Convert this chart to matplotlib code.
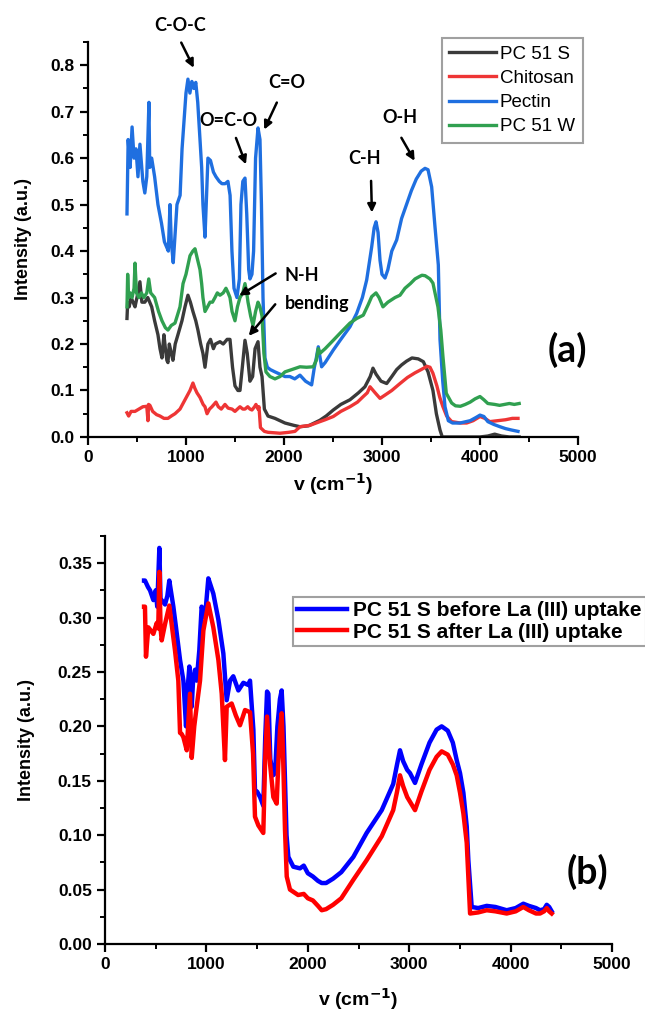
import matplotlib
matplotlib.use("Agg")
import matplotlib.pyplot as plt
from matplotlib.ticker import MultipleLocator

plt.rcParams['font.family'] = ['Liberation Sans', 'DejaVu Sans']

# ---- panel (a) data ----
pectin_x = [398, 410, 430, 450, 470, 490, 510, 530, 560, 580,
            600, 622, 630, 650, 680, 714, 750, 780, 800, 820,
            837, 850, 870, 890, 908, 940, 960, 980, 1000, 1020,
            1040, 1060, 1080, 1100, 1120, 1143, 1160, 1173, 1194, 1210,
            1224, 1250, 1280, 1306, 1340, 1367, 1400, 1428, 1450, 1469,
            1490, 1520, 1545, 1561, 1580, 1602, 1620, 1640, 1653, 1673,
            1690, 1710, 1735, 1755, 1770, 1786, 1806, 1830, 1860, 1908,
            1960, 2010, 2060, 2110, 2163, 2220, 2282, 2310, 2330, 2350,
            2384, 2420, 2503, 2580, 2673, 2742, 2800, 2844, 2895, 2920,
            2939, 2960, 2980, 3000, 3031, 3060, 3100, 3150, 3200, 3250,
            3300, 3350, 3400, 3439, 3470, 3507, 3541, 3575, 3592, 3620,
            3643, 3677, 3720, 3796, 3900, 3960, 4000, 4040, 4080, 4140,
            4204, 4260, 4320, 4388]
pectin_y = [0.48, 0.64, 0.58, 0.667, 0.60, 0.62, 0.56, 0.63, 0.55, 0.525,
            0.56, 0.72, 0.58, 0.60, 0.56, 0.50, 0.46, 0.42, 0.41, 0.40,
            0.50, 0.42, 0.375, 0.44, 0.50, 0.52, 0.62, 0.68, 0.74, 0.77,
            0.74, 0.765, 0.75, 0.763, 0.72, 0.64, 0.58, 0.50, 0.43, 0.52,
            0.60, 0.595, 0.57, 0.56, 0.55, 0.545, 0.545, 0.55, 0.52, 0.40,
            0.32, 0.30, 0.34, 0.50, 0.55, 0.557, 0.48, 0.36, 0.34, 0.35,
            0.40, 0.60, 0.665, 0.64, 0.50, 0.30, 0.17, 0.15, 0.145, 0.14,
            0.135, 0.13, 0.13, 0.125, 0.133, 0.12, 0.112, 0.15, 0.17, 0.194,
            0.151, 0.16, 0.187, 0.21, 0.237, 0.266, 0.30, 0.338, 0.409, 0.45,
            0.463, 0.44, 0.38, 0.35, 0.342, 0.36, 0.40, 0.424, 0.47, 0.50,
            0.53, 0.555, 0.572, 0.578, 0.575, 0.538, 0.452, 0.37, 0.21, 0.12,
            0.065, 0.035, 0.03, 0.03, 0.035, 0.042, 0.047, 0.044, 0.033, 0.027,
            0.022, 0.018, 0.015, 0.012]

pc51w_x = [398, 405, 415, 430, 450, 470, 480, 495, 520, 545,
           570, 600, 620, 640, 680, 720, 755, 790, 816, 850,
           888, 910, 939, 970, 1000, 1041, 1070, 1092, 1120, 1143,
           1160, 1173, 1194, 1220, 1245, 1270, 1296, 1320, 1347, 1380,
           1408, 1430, 1449, 1470, 1500, 1525, 1551, 1580, 1602, 1620,
           1633, 1660, 1684, 1710, 1735, 1755, 1776, 1795, 1816, 1857,
           1908, 1960, 2010, 2080, 2163, 2230, 2299, 2330, 2350, 2367,
           2420, 2503, 2580, 2673, 2742, 2809, 2860, 2895, 2939, 2970,
           3010, 3060, 3133, 3184, 3235, 3290, 3337, 3380, 3408, 3440,
           3490, 3520, 3571, 3600, 3622, 3656, 3711, 3750, 3800, 3850,
           3900, 3950, 4000, 4040, 4080, 4150, 4200, 4250, 4300, 4350,
           4400]
pc51w_y = [0.28, 0.35, 0.30, 0.31, 0.30, 0.32, 0.374, 0.31, 0.30, 0.31,
           0.30, 0.31, 0.34, 0.31, 0.30, 0.27, 0.25, 0.235, 0.23, 0.24,
           0.245, 0.26, 0.28, 0.33, 0.35, 0.39, 0.40, 0.405, 0.38, 0.36,
           0.33, 0.30, 0.27, 0.28, 0.29, 0.29, 0.30, 0.31, 0.305, 0.31,
           0.32, 0.31, 0.30, 0.27, 0.25, 0.28, 0.30, 0.31, 0.33, 0.31,
           0.29, 0.26, 0.24, 0.27, 0.29, 0.28, 0.26, 0.18, 0.14, 0.13,
           0.125, 0.13, 0.14, 0.145, 0.151, 0.15, 0.151, 0.165, 0.19, 0.18,
           0.19, 0.208, 0.225, 0.245, 0.255, 0.262, 0.285, 0.302, 0.31, 0.30,
           0.28, 0.29, 0.30, 0.305, 0.32, 0.33, 0.34, 0.345, 0.348, 0.347,
           0.34, 0.331, 0.28, 0.23, 0.173, 0.094, 0.073, 0.067, 0.066, 0.07,
           0.075, 0.082, 0.087, 0.08, 0.072, 0.07, 0.068, 0.07, 0.072, 0.07,
           0.072]

pc51s_x = [398, 405, 420, 440, 460, 480, 500, 530, 550, 580,
           610, 630, 650, 680, 714, 735, 755, 775, 790, 805,
           816, 830, 850, 867, 890, 918, 959, 990, 1020, 1045,
           1071, 1100, 1122, 1150, 1173, 1194, 1224, 1250, 1280, 1300,
           1347, 1380, 1420, 1449, 1475, 1500, 1530, 1551, 1575, 1602,
           1625, 1653, 1680, 1705, 1735, 1755, 1776, 1800, 1837, 1908,
           2010, 2100, 2163, 2250, 2367, 2430, 2503, 2580, 2673, 2760,
           2826, 2880, 2908, 2940, 2990, 3048, 3100, 3150, 3200, 3250,
           3306, 3370, 3422, 3470, 3520, 3555, 3592, 3615, 3700, 3800,
           3900, 4000, 4080, 4150, 4220, 4300, 4400]
pc51s_y = [0.255, 0.29, 0.28, 0.30, 0.29, 0.28, 0.30, 0.334, 0.29, 0.29,
           0.30, 0.29, 0.28, 0.25, 0.22, 0.19, 0.17, 0.22, 0.19, 0.165,
           0.16, 0.20, 0.18, 0.165, 0.20, 0.22, 0.25, 0.28, 0.305, 0.29,
           0.27, 0.25, 0.23, 0.20, 0.18, 0.15, 0.20, 0.21, 0.19, 0.20,
           0.205, 0.20, 0.21, 0.21, 0.15, 0.11, 0.10, 0.10, 0.15, 0.208,
           0.18, 0.12, 0.13, 0.19, 0.205, 0.15, 0.13, 0.06, 0.045, 0.04,
           0.03, 0.025, 0.022, 0.024, 0.036, 0.045, 0.058, 0.07, 0.08, 0.095,
           0.108, 0.13, 0.148, 0.135, 0.12, 0.115, 0.13, 0.145, 0.155, 0.163,
           0.17, 0.168, 0.162, 0.14, 0.10, 0.05, 0.015, 0.0, 0.0, 0.0,
           0.0, 0.0, 0.002, 0.006, 0.002, 0.0, 0.0]

chitosan_x = [398, 415, 440, 480, 520, 560, 600, 612, 618, 632,
              660, 700, 735, 775, 816, 850, 888, 939, 990, 1041,
              1071, 1090, 1112, 1143, 1175, 1194, 1215, 1240, 1265, 1306,
              1330, 1360, 1398, 1430, 1470, 1500, 1525, 1551, 1580, 1602,
              1630, 1653, 1673, 1700, 1714, 1735, 1745, 1760, 1800, 1837,
              1900, 1959, 2050, 2112, 2163, 2265, 2367, 2420, 2503, 2580,
              2673, 2750, 2809, 2850, 2878, 2930, 2980, 3030, 3100, 3184,
              3260, 3337, 3400, 3459, 3490, 3520, 3560, 3590, 3622, 3660,
              3711, 3800, 3864, 3930, 4000, 4050, 4100, 4180, 4260, 4330,
              4388]
chitosan_y = [0.052, 0.045, 0.055, 0.055, 0.06, 0.065, 0.066, 0.035, 0.07, 0.068,
              0.055, 0.048, 0.045, 0.04, 0.04, 0.045, 0.05, 0.06, 0.08, 0.10,
              0.116, 0.105, 0.095, 0.085, 0.07, 0.065, 0.05, 0.06, 0.065, 0.075,
              0.065, 0.06, 0.07, 0.062, 0.06, 0.055, 0.06, 0.065, 0.06, 0.06,
              0.065, 0.06, 0.058, 0.065, 0.07, 0.06, 0.065, 0.02, 0.012, 0.01,
              0.009, 0.008, 0.01, 0.012, 0.022, 0.025, 0.033, 0.037, 0.044, 0.055,
              0.065, 0.075, 0.087, 0.095, 0.108, 0.095, 0.083, 0.09, 0.10, 0.115,
              0.128, 0.138, 0.145, 0.152, 0.15, 0.137, 0.11, 0.085, 0.065, 0.045,
              0.033, 0.03, 0.03, 0.035, 0.044, 0.04, 0.033, 0.035, 0.037, 0.04,
              0.04]

# ---- panel (b) data ----
before_x = [385, 394, 424, 444, 477, 500, 515, 536, 548, 559,
            592, 615, 634, 674, 700, 740, 773, 799, 815, 832,
            855, 870, 888, 904, 930, 953, 986, 1019, 1040, 1068,
            1118, 1167, 1200, 1233, 1265, 1315, 1364, 1414, 1430, 1463,
            1479, 1500, 1529, 1561, 1580, 1598, 1611, 1630, 1657, 1677,
            1700, 1725, 1742, 1760, 1775, 1790, 1808, 1857, 1923, 1960,
            2000, 2050, 2100, 2137, 2180, 2249, 2330, 2449, 2580, 2729,
            2842, 2880, 2909, 2940, 2980, 3008, 3057, 3120, 3200, 3270,
            3320, 3380, 3430, 3468, 3501, 3534, 3567, 3583, 3616, 3680,
            3764, 3850, 3961, 4050, 4125, 4180, 4250, 4290, 4330, 4356,
            4380, 4405]
before_y = [0.334, 0.334, 0.328, 0.325, 0.316, 0.325, 0.31, 0.364, 0.315, 0.316,
            0.312, 0.32, 0.334, 0.31, 0.291, 0.261, 0.242, 0.20, 0.235, 0.255,
            0.218, 0.245, 0.252, 0.242, 0.27, 0.31, 0.30, 0.336, 0.33, 0.322,
            0.298, 0.267, 0.224, 0.242, 0.246, 0.233, 0.24, 0.238, 0.242, 0.197,
            0.141, 0.14, 0.135, 0.127, 0.19, 0.232, 0.23, 0.17, 0.155, 0.157,
            0.20, 0.225, 0.233, 0.20, 0.15, 0.10, 0.08, 0.071, 0.0695, 0.072,
            0.065, 0.062, 0.058, 0.056, 0.056, 0.06, 0.066, 0.08, 0.102, 0.123,
            0.147, 0.165, 0.178, 0.168, 0.16, 0.157, 0.148, 0.165, 0.185, 0.197,
            0.20, 0.196, 0.185, 0.169, 0.157, 0.139, 0.108, 0.077, 0.034, 0.033,
            0.035, 0.034, 0.031, 0.033, 0.037, 0.035, 0.033, 0.031, 0.032, 0.036,
            0.034, 0.03]

after_x = [385, 394, 404, 427, 477, 510, 525, 536, 548, 559,
           592, 634, 657, 690, 723, 740, 756, 773, 806, 838,
           855, 880, 904, 937, 970, 1019, 1068, 1118, 1151, 1183,
           1200, 1249, 1290, 1331, 1381, 1430, 1460, 1479, 1512, 1561,
           1578, 1598, 1627, 1660, 1693, 1709, 1726, 1742, 1758, 1775,
           1792, 1824, 1904, 1960, 2000, 2050, 2100, 2137, 2180, 2249,
           2330, 2449, 2580, 2729, 2842, 2880, 2909, 2940, 2980, 3057,
           3120, 3200, 3270, 3320, 3380, 3430, 3468, 3501, 3534, 3567,
           3600, 3680, 3764, 3850, 3961, 4050, 4125, 4180, 4250, 4290,
           4330, 4356, 4380, 4405]
after_y = [0.31, 0.31, 0.264, 0.291, 0.285, 0.295, 0.29, 0.342, 0.29, 0.279,
           0.294, 0.311, 0.294, 0.27, 0.242, 0.194, 0.193, 0.19, 0.178, 0.23,
           0.171, 0.20, 0.218, 0.242, 0.288, 0.313, 0.291, 0.261, 0.23, 0.169,
           0.218, 0.221, 0.21, 0.201, 0.215, 0.213, 0.175, 0.117, 0.109, 0.102,
           0.166, 0.209, 0.166, 0.135, 0.129, 0.166, 0.197, 0.212, 0.166, 0.105,
           0.062, 0.05, 0.045, 0.046, 0.042, 0.04, 0.035, 0.031, 0.032, 0.036,
           0.042, 0.059, 0.077, 0.099, 0.123, 0.14, 0.155, 0.145, 0.135, 0.123,
           0.14, 0.16, 0.172, 0.177, 0.174, 0.165, 0.155, 0.139, 0.12, 0.093,
           0.028, 0.029, 0.031, 0.03, 0.028, 0.03, 0.034, 0.031, 0.028, 0.028,
           0.03, 0.033, 0.03, 0.028]

fig = plt.figure(figsize=(6.45, 10.11), dpi=100)
ax1 = fig.add_axes([0.1364, 0.5678, 0.7597, 0.3907])
ax2 = fig.add_axes([0.1628, 0.0663, 0.7861, 0.4036])

ax1.plot(pc51s_x, pc51s_y, color='#3a3a3a', lw=2.4, label='PC 51 S')
ax1.plot(chitosan_x, chitosan_y, color='#ee3535', lw=2.4, label='Chitosan')
ax1.plot(pectin_x, pectin_y, color='#1f6fe0', lw=2.4, label='Pectin')
ax1.plot(pc51w_x, pc51w_y, color='#30a050', lw=2.4, label='PC 51 W')

ax2.plot(before_x, before_y, color='#0000ff', lw=3.2, label='PC 51 S before La (III) uptake')
ax2.plot(after_x, after_y, color='#ff0000', lw=3.2, label='PC 51 S after La (III) uptake')

for ax in (ax1, ax2):
    ax.set_xlim(0, 5000)
    ax.spines['right'].set_visible(False)
    ax.spines['top'].set_visible(False)
    for s in ('left', 'bottom'):
        ax.spines[s].set_linewidth(1.6)
    ax.xaxis.set_major_locator(MultipleLocator(1000))
    ax.xaxis.set_minor_locator(MultipleLocator(500))
    ax.tick_params(which='major', direction='out', length=6, width=1.6, labelsize=12.5)
    ax.tick_params(which='minor', direction='out', length=3.5, width=1.4)
    ax.set_ylabel('Intensity (a.u.)', fontsize=13, fontweight='bold')
    ax.set_xlabel('v (cm$^{\\mathbf{-1}}$)', fontsize=14, fontweight='bold')

ax1.set_ylim(0, 0.85)
ax1.yaxis.set_major_locator(MultipleLocator(0.1))
ax1.yaxis.set_minor_locator(MultipleLocator(0.05))
ax1.yaxis.set_major_formatter(plt.FormatStrFormatter('%.1f'))
ax2.set_ylim(0, 0.375)
ax2.yaxis.set_major_locator(MultipleLocator(0.05))
ax2.yaxis.set_minor_locator(MultipleLocator(0.025))
ax2.yaxis.set_major_formatter(plt.FormatStrFormatter('%.2f'))
for ax in (ax1, ax2):
    for lab in ax.get_xticklabels() + ax.get_yticklabels():
        lab.set_fontweight('bold')
ax1.yaxis.set_label_coords(-0.115, 0.5)
ax2.yaxis.set_label_coords(-0.138, 0.5)
ax2.xaxis.labelpad = 10

leg1 = ax1.legend(loc='upper left', bbox_to_anchor=(0.722, 1.01), fontsize=13.5,
                  frameon=True, fancybox=False, handlelength=2.5, handletextpad=0.2,
                  borderpad=0.4, labelspacing=0.38, borderaxespad=0)
leg1.get_frame().set_edgecolor('#888888')
leg1.get_frame().set_linewidth(1.5)

leg2 = ax2.legend(loc='upper left', bbox_to_anchor=(0.454, 0.4095),
                  bbox_transform=fig.transFigure,
                  prop={'weight': 'bold', 'size': 15},
                  frameon=True, fancybox=False, handlelength=2.4, handletextpad=0.3,
                  borderpad=0.2, labelspacing=0.12, borderaxespad=0)
leg2.get_frame().set_edgecolor('#888888')
leg2.get_frame().set_linewidth(1.5)

ann = dict(fontsize=13, fontweight='bold', family=['Lato', 'DejaVu Sans'],
           ha='center', va='center')
arrow = dict(arrowstyle='-|>', color='black', lw=1.8, mutation_scale=12)

ax1.text(939, 0.886, 'C-O-C', **ann)
ax1.annotate('', xy=(1092, 0.789), xytext=(939, 0.854), arrowprops=arrow)
ax1.text(2031, 0.763, 'C=O', **ann)
ax1.annotate('', xy=(1786, 0.656), xytext=(1939, 0.725), arrowprops=arrow)
ax1.text(1429, 0.682, 'O=C-O', **ann)
ax1.annotate('', xy=(1622, 0.581), xytext=(1500, 0.649), arrowprops=arrow)
ax1.text(2827, 0.60, 'C-H', **ann)
ax1.annotate('', xy=(2898, 0.477), xytext=(2888, 0.557), arrowprops=arrow)
ax1.text(3184, 0.688, 'O-H', **ann)
ax1.annotate('', xy=(3347, 0.589), xytext=(3184, 0.649), arrowprops=arrow)
ax1.text(2010, 0.348, 'N-H', fontsize=13, fontweight='bold',
         family=['Lato', 'DejaVu Sans'], ha='left', va='center')
ax1.text(2010, 0.288, 'bending', fontsize=13, fontweight='bold',
         family=['Lato', 'DejaVu Sans'], ha='left', va='center')
ax1.annotate('', xy=(1520, 0.301), xytext=(1939, 0.355), arrowprops=arrow)
ax1.annotate('', xy=(1622, 0.213), xytext=(1929, 0.29), arrowprops=arrow)
ax1.text(4888, 0.187, '(a)', fontsize=27, fontweight='bold',
         family=['Lato', 'DejaVu Sans'], ha='center', va='center')
ax2.text(4753, 0.066, '(b)', fontsize=27, fontweight='bold',
         family=['Lato', 'DejaVu Sans'], ha='center', va='center')

fig.savefig('out.png', dpi=100)
